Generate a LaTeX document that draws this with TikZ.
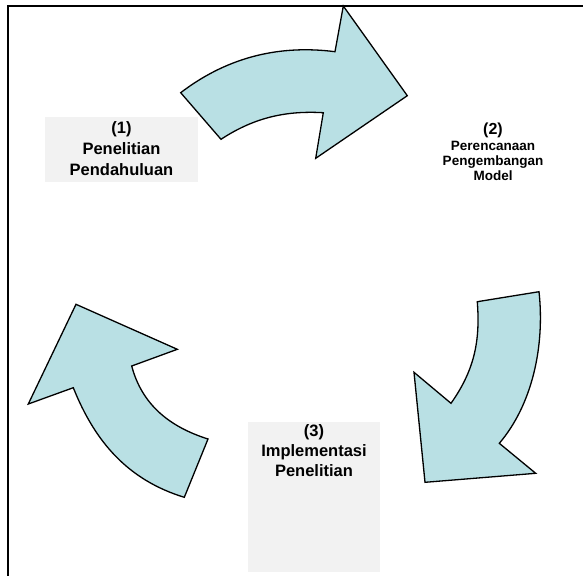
\documentclass[tikz,border=0pt]{standalone}
\usepackage{fontspec}
\setmainfont{Liberation Sans}
\definecolor{arrowfill}{RGB}{185,224,228}
\definecolor{boxgray}{RGB}{242,242,242}
\begin{document}
\begin{tikzpicture}[x=1pt,y=-1pt,
  flow/.style={draw=black, line width=1.3pt, fill=arrowfill, line join=miter},
  graybox/.style={fill=boxgray, draw=none, inner sep=0pt},
  biglbl/.style={align=center, inner sep=0pt, font=\fontsize{16.5}{21}\selectfont\bfseries},
  smalllbl/.style={align=center, inner sep=0pt, font=\fontsize{13.5}{15}\selectfont\bfseries}]
\useasboundingbox (0,0) rectangle (583,576);

% outer frame (only top and left edges fall inside the page)
\draw[line width=1.8pt] (583,6) -| (8,576);

% label boxes
\node[graybox, minimum width=153pt, minimum height=65pt] (b1) at (121.5,149.5) {};
\node[biglbl] (t1) at (121.5,148.5) {(1)\\Penelitian\\Pendahuluan};

\node[smalllbl] (t2) at (493,152) {{\fontsize{16}{16}\selectfont(2)}\\[1pt]Perencanaan\\Pengembangan\\Model};

\node[graybox, minimum width=132pt, minimum height=150pt] (b3) at (314,497) {};
\node[biglbl, font=\fontsize{16.5}{20}\selectfont\bfseries] (t3) at (314,450.5) {(3)\\Implementasi\\Penelitian};

% curved arrow from (1) to (2)
\draw[flow] (180.7,92.7) .. controls (230,55) and (283,45) .. (335,51.7)
  -- (343.3,6) -- (407.3,95.7) -- (315.7,158.3) -- (323.3,112.7)
  .. controls (288.3,110.7) and (256,116.3) .. (221,139.3) -- cycle;

% curved arrow from (2) to (3)
\draw[flow] (477.3,301.7) -- (539,291.7)
  .. controls (545,346.7) and (532,405) .. (499.3,443.3)
  -- (535.7,473.3) -- (425,482.3) -- (414,372.3) -- (451,403.3)
  .. controls (476,368) and (480,338) .. (477.3,301.7) -- cycle;

% curved arrow from (3) back to (1)
\draw[flow] (76,304.3) -- (177.3,349.3) -- (131.7,366)
  .. controls (142,405) and (170,427) .. (208,439)
  -- (184.3,497.3)
  .. controls (128,480) and (95,442) .. (73.3,387.7)
  -- (28.3,404) -- cycle;
\end{tikzpicture}
\end{document}
